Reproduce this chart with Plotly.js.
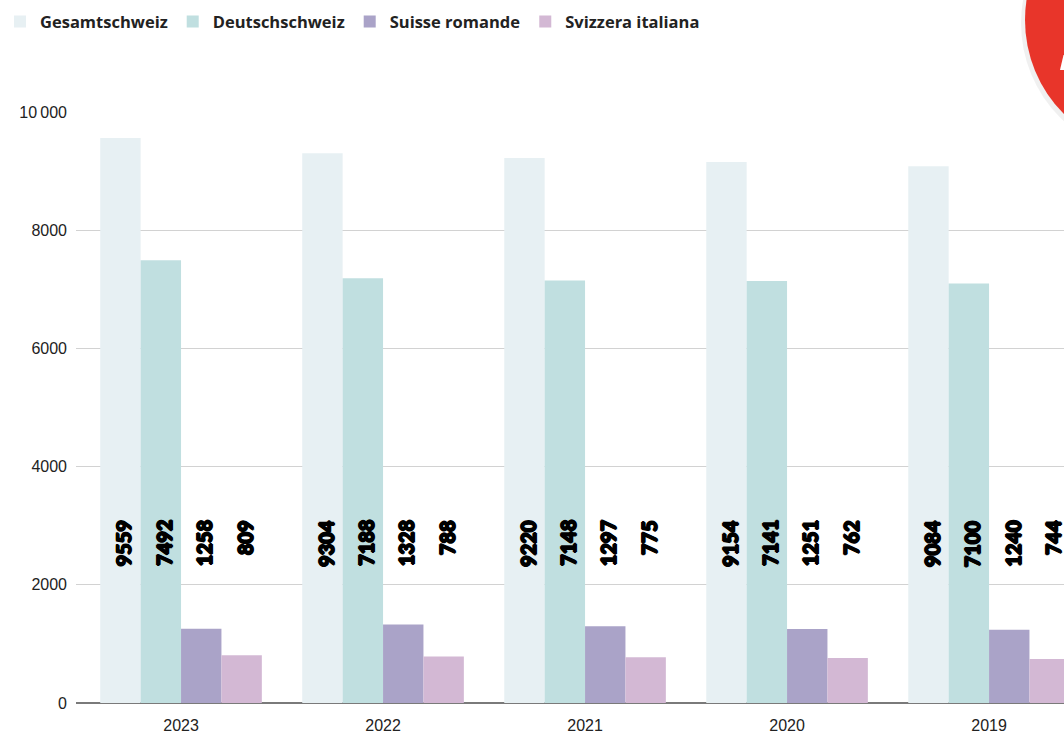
<!DOCTYPE html>
<html>
<head>
<meta charset="utf-8">
<script src="https://cdn.plot.ly/plotly-3.0.1.min.js"></script>
<style>html,body{margin:0;padding:0;background:#fff;}#chart{width:1064px;height:733px;}</style>
</head>
<body>
<div id="chart"></div>
<script>
var years = ['2023', '2022', '2021', '2020', '2019'];
var seriesNames = ['Gesamtschweiz', 'Deutschschweiz', 'Suisse romande', 'Svizzera italiana'];
var gesamt = [9559, 9304, 9220, 9154, 9084];
var deutsch = [7492, 7188, 7148, 7141, 7100];
var romande = [1258, 1328, 1297, 1251, 1240];
var italiana = [809, 788, 775, 762, 744];
var tickVals = [0, 2000, 4000, 6000, 8000, 10000];
var tickText = ['0', '2000', '4000', '6000', '8000', '10\u2009000'];

var colors = ['#e7f0f3', '#c0dfe0', '#aaa3c8', '#d3b8d4'];
var allSeries = [gesamt, deutsch, romande, italiana];

var traces = allSeries.map(function (vals, i) {
  return {
    type: 'bar',
    name: seriesNames[i],
    x: years,
    y: vals,
    marker: {color: colors[i], line: {width: 0}},
    hoverinfo: 'x+y+name'
  };
});

var nS = allSeries.length;
var barW = 0.8 / nS;
var annotations = [];
allSeries.forEach(function (vals, i) {
  vals.forEach(function (v, j) {
    annotations.push({
      x: j - 0.4 + barW * (i + 0.5),
      xref: 'x',
      y: 3130,
      yref: 'y',
      text: String(v),
      showarrow: false,
      textangle: -90,
      xanchor: 'center',
      yanchor: 'top',
      xshift: 3,
      font: {
        family: '"Lato Black", Lato, Roboto, sans-serif', size: 20, weight: 900, color: '#000',
        shadow: '0.9px 0 0 #000, -0.9px 0 0 #000, 0 0.9px 0 #000, 0 -0.9px 0 #000'
      }
    });
  });
});

function px(x) { return (x - 76) / 988; }
function py(y) { return (703 - y) / 591; }

var layout = {
  width: 1064,
  height: 733,
  margin: {l: 76, r: 0, t: 112, b: 30},
  paper_bgcolor: '#ffffff',
  plot_bgcolor: '#ffffff',
  barmode: 'group',
  bargap: 0.2,
  bargroupgap: 0,
  showlegend: true,
  legend: {
    orientation: 'h',
    x: -4 / 1064, xref: 'container', xanchor: 'left',
    y: 0.994, yref: 'container', yanchor: 'top',
    font: {family: '"Open Sans", sans-serif', size: 16.5, weight: 700, color: '#222'},
    bgcolor: 'rgba(0,0,0,0)',
    traceorder: 'normal'
  },
  xaxis: {
    type: 'category',
    range: [-0.52, 4.371],
    showgrid: false,
    zeroline: false,
    showline: false,
    ticks: '',
    tickfont: {family: '"Liberation Sans", Arial, sans-serif', size: 16, color: '#222'},
    ticklabelstandoff: 11
  },
  yaxis: {
    range: [0, 10000],
    tickvals: tickVals,
    ticktext: tickText,
    showgrid: true,
    gridcolor: '#d2d2d2',
    gridwidth: 1,
    zeroline: true,
    zerolinecolor: '#7a7a7a',
    zerolinewidth: 2,
    showline: false,
    ticks: '',
    tickfont: {family: '"Liberation Sans", Arial, sans-serif', size: 16, color: '#222'},
    ticklabelstandoff: 8
  },
  shapes: [
    {
      type: 'circle', xref: 'paper', yref: 'paper',
      x0: px(1021), x1: px(1289), y0: py(157), y1: py(-111),
      fillcolor: 'rgba(0,0,0,0.06)', line: {width: 0}, layer: 'above'
    },
    {
      type: 'circle', xref: 'paper', yref: 'paper',
      x0: px(1025), x1: px(1291), y0: py(153), y1: py(-113),
      fillcolor: '#e8352a', line: {width: 0}, layer: 'above'
    },
    {
      type: 'path', xref: 'paper', yref: 'paper',
      path: 'M ' + px(1063.5) + ' ' + py(55) + ' L ' + px(1060) + ' ' + py(70) +
            ' L ' + px(1064) + ' ' + py(70) + ' L ' + px(1064) + ' ' + py(55) + ' Z',
      fillcolor: '#ffffff', line: {width: 0}, layer: 'above'
    }
  ],
  annotations: annotations
};

Plotly.newPlot('chart', traces, layout, {displayModeBar: false, staticPlot: true});
</script>
</body>
</html>
